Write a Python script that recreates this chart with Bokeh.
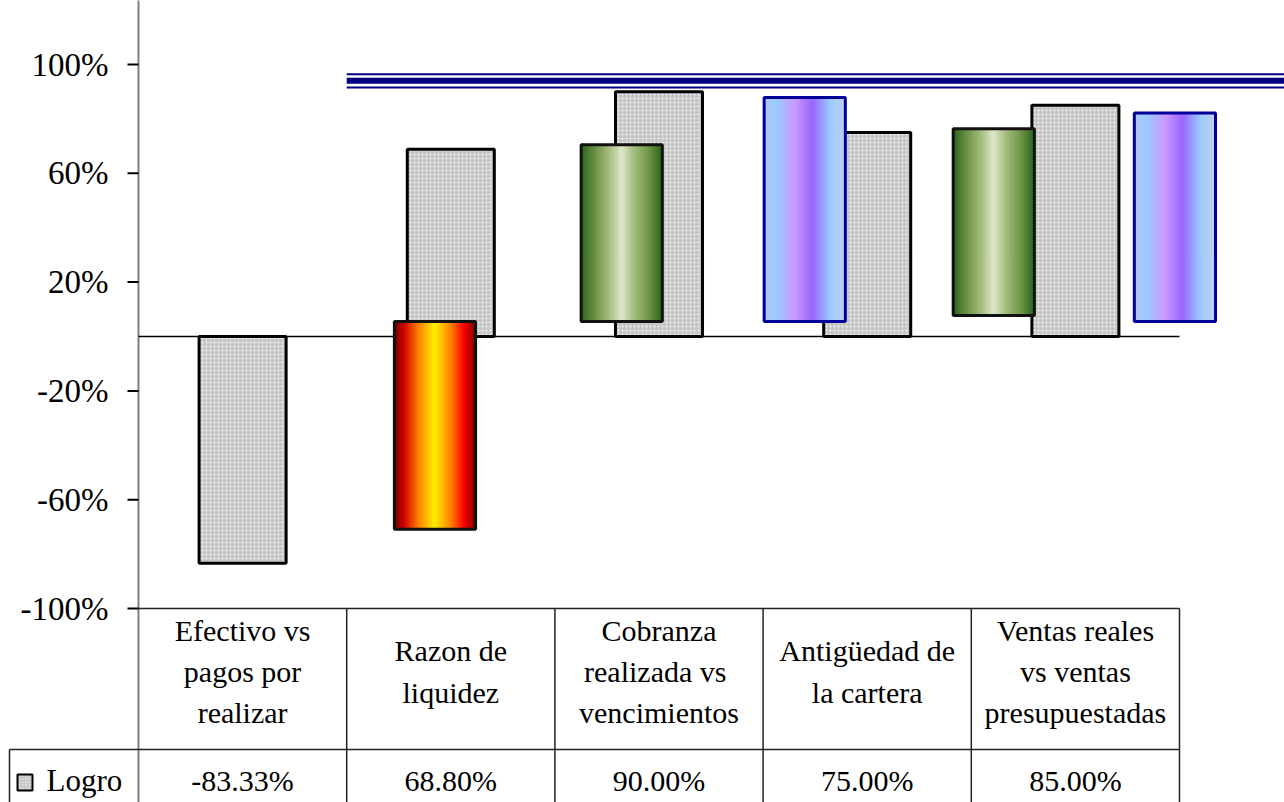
from bokeh.plotting import figure
from bokeh.models import Range1d
from bokeh.core.properties import value
from bokeh.embed import file_html
from bokeh.resources import INLINE

# ---------------- data ----------------
categorias = [
    "Efectivo vs\npagos por\nrealizar",
    "Razon de\nliquidez",
    "Cobranza\nrealizada  vs\nvencimientos",
    "Antigüedad de\nla cartera",
    "Ventas reales\nvs ventas\npresupuestadas",
]
logro = [-83.33, 68.80, 90.00, 75.00, 85.00]
serie_nombre = "Logro"
meta = 94.0
y_ticks = [-100, -60, -20, 20, 60, 100]
y_tick_labels = ["-100%", "-60%", "-20%", "20%", "60%", "100%"]

# indicator ("semaforo") bars drawn over the chart
ind_pos = [1.424, 2.321, 3.200, 4.108, 4.978]
ind_low = [-70.9, 5.5, 5.5, 7.7, 5.5]
ind_high = [5.5, 70.5, 87.9, 76.4, 82.2]
ind_kind = ["rojo", "verde", "azul", "verde", "azul"]

# ---------------- geometry / style ----------------
W, H = 1284, 802
AXIS_PX = 138          # page x of the value axis
PX_UNIT = 208.2        # pixels per category
PX_PCT = 2.72          # pixels per percent
ZERO_PX = 336          # page y of 0%
x_start = -AXIS_PX / PX_UNIT
x_end = (W - AXIS_PX) / PX_UNIT
y_top = ZERO_PX / PX_PCT
y_bot = (ZERO_PX - H) / PX_PCT
row_y = (ZERO_PX - 749) / PX_PCT
header_y = (ZERO_PX - 671) / PX_PCT
values_y = (ZERO_PX - 780) / PX_PCT
FONT = "Liberation Serif"

gradients = {
    "rojo": [(0.0, "#6a0000"), (0.12, "#d00000"), (0.3, "#ff8000"), (0.5, "#fff000"),
             (0.7, "#ff8000"), (0.86, "#ff0000"), (1.0, "#7a0000")],
    "verde": [(0.0, "#2a661c"), (0.2, "#77984c"), (0.36, "#a9c083"), (0.5, "#dfe8cc"),
              (0.64, "#a9c083"), (0.84, "#6f9545"), (1.0, "#2a661c")],
    "azul": [(0.0, "#b4c4f2"), (0.15, "#99ccff"), (0.38, "#cc99ff"), (0.6, "#9966ff"),
             (0.82, "#99ccff"), (1.0, "#c4cff4")],
}
outline = {"rojo": "#111111", "verde": "#111111", "azul": "#000099"}


def hex2rgb(h):
    return tuple(int(h[i:i + 2], 16) for i in (1, 3, 5))


def interp(stops, t):
    for (t0, c0), (t1, c1) in zip(stops[:-1], stops[1:]):
        if t0 <= t <= t1:
            f = 0 if t1 == t0 else (t - t0) / (t1 - t0)
            a, b = hex2rgb(c0), hex2rgb(c1)
            return "#%02x%02x%02x" % tuple(int(round(a[k] + (b[k] - a[k]) * f)) for k in range(3))
    return stops[-1][1]


p = figure(width=W, height=H, x_range=Range1d(x_start, x_end), y_range=Range1d(y_bot, y_top),
           output_backend="svg", toolbar_location=None, x_axis_location=None,
           y_axis_location=None, min_border=0)
p.outline_line_color = None
p.xgrid.visible = False
p.ygrid.visible = False
p.background_fill_color = "white"
p.border_fill_color = "white"

n = len(categorias)
centers = [i + 0.5 for i in range(n)]
px = 1.0 / PX_UNIT

# value axis (line, ticks, labels)
p.segment(x0=[0], x1=[0], y0=[y_bot - 5], y1=[y_top + 5], line_color="#808080", line_width=2)
p.segment(x0=[-11 * px] * len(y_ticks), x1=[0] * len(y_ticks), y0=y_ticks, y1=y_ticks,
          line_color="black", line_width=2)
p.text(x=[-30 * px] * len(y_ticks), y=y_ticks, text=y_tick_labels, text_font=value(FONT),
       text_font_size="33px", text_align="right", text_baseline="middle", text_color="black")

# zero baseline
p.segment(x0=[0], x1=[n], y0=[0], y1=[0], line_color="black", line_width=1.5)

# Logro bars
p.vbar(x=centers, width=0.418, top=logro, bottom=0, fill_color="#c6c6c6",
       hatch_pattern="dot", hatch_color="#f4f4f4", hatch_scale=4, hatch_weight=1,
       line_color="black", line_width=3)

# indicator bars with gradient strips
IND_W = 0.39
N = 48
L, R, T, B, C = [], [], [], [], []
for xc, lo, hi, kind in zip(ind_pos, ind_low, ind_high, ind_kind):
    x0 = xc - IND_W / 2
    for k in range(N):
        L.append(x0 + IND_W * k / N)
        R.append(min(x0 + IND_W * (k + 1) / N + 1.5 * px, x0 + IND_W))
        B.append(lo)
        T.append(hi)
        C.append(interp(gradients[kind], (k + 0.5) / N))
p.quad(left=L, right=R, top=T, bottom=B, fill_color=C, line_color=C, line_width=0.6)
p.quad(left=[x - IND_W / 2 for x in ind_pos], right=[x + IND_W / 2 for x in ind_pos],
       top=ind_high, bottom=ind_low, fill_color=None,
       line_color=[outline[k] for k in ind_kind], line_width=3)

# goal line (triple)
p.segment(x0=[1.0], x1=[x_end + 1], y0=[meta], y1=[meta], line_color="#000080", line_width=6)
p.segment(x0=[1.0, 1.0], x1=[x_end + 1] * 2, y0=[meta + 2.45, meta - 2.5],
          y1=[meta + 2.45, meta - 2.5], line_color="#000080", line_width=2)

# data table
cell_x = (9 - AXIS_PX) / PX_UNIT
p.segment(x0=[0, cell_x], x1=[n, n], y0=[-100, row_y], y1=[-100, row_y],
          line_color="#222222", line_width=1.5)
p.segment(x0=[cell_x] + list(range(1, n + 1)), x1=[cell_x] + list(range(1, n + 1)),
          y0=[row_y] + [-100] * n, y1=[y_bot - 5] * (n + 1),
          line_color="#222222", line_width=1.5)
p.text(x=centers, y=[header_y] * n, text=categorias, text_font=value(FONT), text_font_size="30px",
       text_align="center", text_baseline="middle", text_line_height=1.25, text_color="black")
p.text(x=centers, y=[values_y] * n, text=[f"{v:.2f}%" for v in logro], text_font=value(FONT),
       text_font_size="30px", text_align="center", text_baseline="middle", text_color="black")

# legend cell: key + series name
p.quad(left=[(17 - AXIS_PX) * px], right=[(32 - AXIS_PX) * px],
       top=[(ZERO_PX - 774) / PX_PCT], bottom=[(ZERO_PX - 790) / PX_PCT],
       fill_color="#c6c6c6", hatch_pattern="dot", hatch_color="#f4f4f4", hatch_scale=3,
       line_color="black", line_width=2)
p.text(x=[(46 - AXIS_PX) * px], y=[values_y], text=[serie_nombre], text_font=value(FONT),
       text_font_size="31px", text_align="left", text_baseline="middle", text_color="black")

open("out.html", "w").write(file_html(p, INLINE))
